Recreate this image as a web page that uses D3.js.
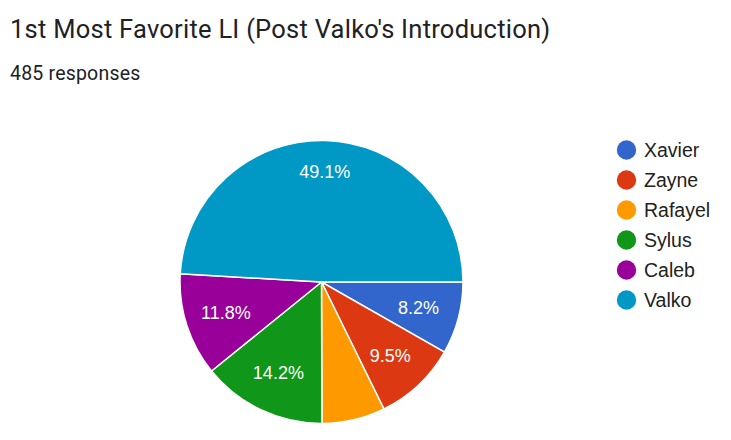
<!DOCTYPE html>
<html>
<head>
<meta charset="utf-8">
<script src="https://cdnjs.cloudflare.com/ajax/libs/d3/7.8.5/d3.min.js"></script>
<style>
  body { margin: 0; background: #fff; }
  svg { font-family: Roboto, Arial, sans-serif; }
</style>
</head>
<body>
<div id="chart"></div>
<script>
// data (485 responses)
const names = ['Xavier', 'Zayne', 'Rafayel', 'Sylus', 'Caleb', 'Valko'];
const counts = [40, 46, 35, 69, 57, 238];
const colors = ['#3366cc', '#dc3912', '#ff9900', '#109618', '#990099', '#0099c6'];
const total = 485;

const width = 731, height = 440;
const cx = 321.5, cy = 282, radius = 141.5;
const chartFont = '"Liberation Sans", Arial, sans-serif';

const svg = d3.select('#chart').append('svg')
    .attr('width', width)
    .attr('height', height);

svg.append('text')
    .attr('x', 10)
    .attr('y', 38)
    .attr('font-size', '25.5px')
    .attr('letter-spacing', '0.25px')
    .attr('fill', '#202124')
    .text("1st Most Favorite LI (Post Valko's Introduction)");

svg.append('text')
    .attr('x', 10)
    .attr('y', 80)
    .attr('font-size', '19.5px')
    .attr('letter-spacing', '0.2px')
    .attr('fill', '#202124')
    .text(total + ' responses');

const color = d3.scaleOrdinal().domain(names).range(colors);

const pie = d3.pie()
    .sort(null)
    .value((d, i) => counts[i])
    .startAngle(Math.PI / 2)
    .endAngle(Math.PI / 2 + 2 * Math.PI);

const arcs = pie(names);
const arc = d3.arc().innerRadius(0).outerRadius(radius);

const g = svg.append('g')
    .attr('transform', 'translate(' + cx + ',' + cy + ')');

g.selectAll('path')
    .data(arcs)
    .enter().append('path')
    .attr('d', arc)
    .attr('fill', d => color(d.data))
    .attr('stroke', '#fff')
    .attr('stroke-width', 1.5);

// big slices get their label pushed further out
function labelRadius(d) {
    const share = (d.endAngle - d.startAngle) / (2 * Math.PI);
    return share > 0.3 ? radius * 0.78 : radius * 0.71;
}

g.selectAll('text.pct')
    .data(arcs.filter(d => (d.endAngle - d.startAngle) / (2 * Math.PI) >= 0.08))
    .enter().append('text')
    .classed('pct', true)
    .attr('transform', d => {
        const r = labelRadius(d);
        const c = d3.arc().innerRadius(r).outerRadius(r).centroid(d);
        return 'translate(' + c[0] + ',' + c[1] + ')';
    })
    .attr('text-anchor', 'middle')
    .attr('dy', '0.35em')
    .attr('font-family', chartFont)
    .attr('font-size', '18px')
    .attr('fill', '#fff')
    .text(d => (d.value / total * 100).toFixed(1) + '%');

const legend = svg.append('g')
    .attr('transform', 'translate(626.5,150)');

const item = legend.selectAll('g')
    .data(names)
    .enter().append('g')
    .attr('transform', (d, i) => 'translate(0,' + (i * 30) + ')');

item.append('circle')
    .attr('r', 9.7)
    .attr('fill', d => color(d));

item.append('text')
    .attr('x', 17.5)
    .attr('dy', '0.36em')
    .attr('font-family', chartFont)
    .attr('font-size', '19.5px')
    .attr('fill', '#222')
    .text(d => d);
</script>
</body>
</html>
